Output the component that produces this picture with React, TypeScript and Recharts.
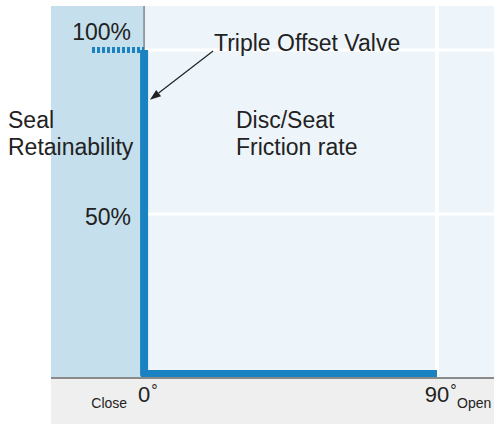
import { Line, LineChart, ReferenceArea, ReferenceLine, XAxis, YAxis } from "recharts";

// seal retainability vs. disc angle (triple offset valve)
const retainAngle = [0, 0, 90];
const retainValue = [100, 1.2, 1.2];
const lockAngle = [-16, 0];
const lockValue = [100, 100];

const xTicks = [0, 90];
const xTickLabels = ["0", "90"];
const xSideLabels = ["Close", "Open"];
const yTicks = [50, 100];
const yTickLabels = ["50%", "100%"];
const yLabelShift = [11, -10];

const xMin = -28.6;
const xMax = 107.5;
const yMax = 113.4;

const retainData = retainAngle.map((a, i) => ({ angle: a, value: retainValue[i] }));
const lockData = lockAngle.map((a, i) => ({ angle: a, value: lockValue[i] }));

const FONT = "'Liberation Sans', Arial, Helvetica, sans-serif";
const BLUE = "#1a82c0";
const INK = "#222";

function XTick(props: any) {
    const { x, y, payload } = props;
    const i = xTicks.indexOf(payload.value);
    const half = xTickLabels[i].length * 12.2 / 2;
    return <g fontFamily={FONT} fill={INK}>
        <text x={x} y={y + 16} fontSize={22} textAnchor="middle">{xTickLabels[i]}</text>
        <text x={x + half + 1} y={y + 10} fontSize={16} textAnchor="start">°</text>
        {i === 0
            ? <text x={x - 17} y={y + 22} fontSize={14} textAnchor="end">{xSideLabels[0]}</text>
            : <text x={x + 20} y={y + 22} fontSize={14} textAnchor="start">{xSideLabels[1]}</text>}
    </g>
}

function YLabel(props: any) {
    const { viewBox, value, shift } = props;
    return <text x={viewBox.x - 13} y={viewBox.y + shift} textAnchor="end"
        fontSize={23} fontFamily={FONT} fill={INK}>{value}</text>
}

function Arrow(props: any) {
    const { x1, y1, x2, y2 } = props;
    const ang = Math.atan2(y2 - y1, x2 - x1);
    const len = 11, w = 4;
    const bx = x2 - len * Math.cos(ang), by = y2 - len * Math.sin(ang);
    const px = -Math.sin(ang) * w, py = Math.cos(ang) * w;
    return <g>
        <line x1={x1} y1={y1} x2={bx} y2={by} stroke="#222" strokeWidth={1.2} />
        <polygon points={`${x2},${y2} ${bx + px},${by + py} ${bx - px},${by - py}`} fill="#222" />
    </g>
}

export default function App() {
    return <div style={{ position: "absolute", left: 0, top: 0, width: 494, height: 424 }}>
        <div style={{ position: "absolute", left: 51, top: 378, width: 443, height: 46, background: "#efefef" }} />
        <div style={{ position: "absolute", left: 0, top: 0 }}>
            <LineChart width={494} height={424} margin={{ top: 6, right: 0, left: 51, bottom: 0 }}>
                <XAxis
                    dataKey="angle"
                    type="number"
                    domain={[xMin, xMax]}
                    allowDataOverflow
                    ticks={xTicks}
                    interval={0}
                    height={46}
                    tickLine={false}
                    axisLine={{ stroke: "#8a8a8a", strokeWidth: 2 }}
                    tick={<XTick />}
                />
                <YAxis hide type="number" domain={[0, yMax]} allowDataOverflow ticks={yTicks} />
                <ReferenceArea x1={xMin} x2={0} y1={0} y2={yMax} fill="#c5dfec" fillOpacity={1} stroke="none" />
                <ReferenceArea x1={0} x2={xMax} y1={0} y2={yMax} fill="#edf5fb" fillOpacity={1} stroke="none" />
                {yTicks.map((t, i) =>
                    <ReferenceLine key={t} segment={[{ x: 0, y: t }, { x: xMax, y: t }]} stroke="#fff" strokeWidth={3}
                        label={<YLabel value={yTickLabels[i]} shift={yLabelShift[i]} />} />
                )}
                <ReferenceLine x={90} stroke="#fff" strokeWidth={4} />
                <ReferenceLine x={0} stroke="#555" strokeWidth={1} />
                <Line data={lockData} dataKey="value" stroke={BLUE} strokeWidth={6} strokeDasharray="3 2"
                    dot={false} isAnimationActive={false} />
                <Line data={retainData} dataKey="value" stroke={BLUE} strokeWidth={8} strokeLinejoin="round"
                    dot={false} isAnimationActive={false} />
                <ReferenceLine segment={[{ x: 21.2, y: 99.7 }, { x: 1.8, y: 84.8 }]} shape={<Arrow />} />
            </LineChart>
        </div>
        <svg width={494} height={424} style={{ position: "absolute", left: 0, top: 0, pointerEvents: "none" }}
            fontSize={23} fontFamily={FONT} fill={INK}>
            <text x={214} y={51}>Triple Offset Valve</text>
            <text>
                <tspan x={8} y={128}>Seal</tspan>
                <tspan x={8} y={155}>Retainability</tspan>
            </text>
            <text>
                <tspan x={236} y={128}>Disc/Seat</tspan>
                <tspan x={236} y={155}>Friction rate</tspan>
            </text>
        </svg>
    </div>
}
